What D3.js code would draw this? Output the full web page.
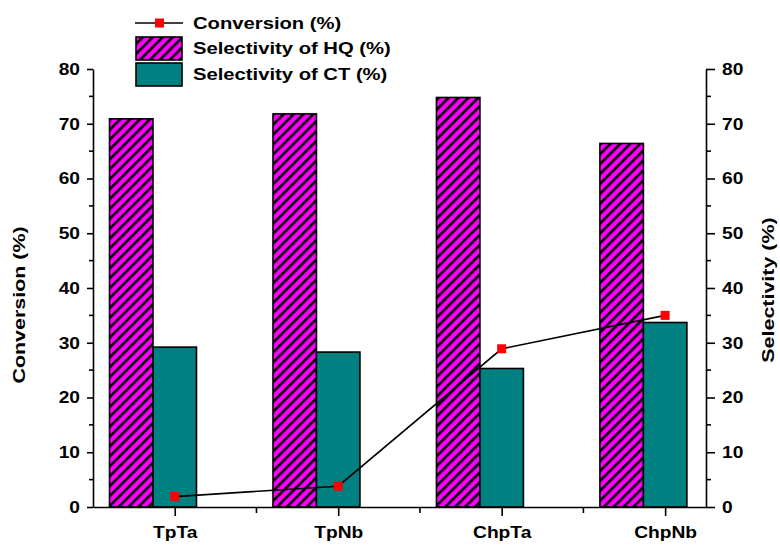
<!DOCTYPE html>
<html>
<head>
<meta charset="utf-8">
<script src="https://cdn.jsdelivr.net/npm/d3@7"></script>
<style>
  html, body { margin: 0; padding: 0; background: #fff; }
  svg text { font-family: Arial, "Liberation Sans", sans-serif; font-weight: bold; fill: #000; }
</style>
</head>
<body>
<svg id="chart" width="780" height="548"></svg>
<script>
// Catalyst samples
const categories = ["TpTa", "TpNb", "ChpTa", "ChpNb"];
// Conversion (%), left axis
const conversion = [1.9, 3.8, 28.9, 35.0];
// Selectivity (%), right axis
const selectivityHQ = [70.9, 71.8, 74.8, 66.4];
const selectivityCT = [29.2, 28.3, 25.3, 33.7];
const yTicks = [0, 10, 20, 30, 40, 50, 60, 70, 80];

const svg = d3.select("#chart");
const margin = { left: 93, right: 706, top: 69, bottom: 507 };

// categories sit at 1..4 on a linear x scale
const x = d3.scaleLinear().domain([0.5, 4.25]).range([margin.left, margin.right]);
const yL = d3.scaleLinear().domain([0, 80]).range([margin.bottom, margin.top]);
const yR = d3.scaleLinear().domain([0, 80]).range([margin.bottom, margin.top]);
const barW = 0.266;

// widen glyphs horizontally around each text's anchor point
function stretch(sel, k) {
  sel.each(function () {
    const t = d3.select(this);
    const tx = +t.attr("x") || 0, ty = +t.attr("y") || 0;
    const prev = t.attr("transform") || "";
    t.attr("transform", `${prev} translate(${tx},${ty}) scale(${k},1) translate(${-tx},${-ty})`);
  });
}

// hatch pattern for HQ bars
const defs = svg.append("defs");
const pat = defs.append("pattern")
  .attr("id", "hatch").attr("patternUnits", "userSpaceOnUse")
  .attr("width", 7).attr("height", 7)
  .attr("patternTransform", "rotate(45)");
pat.append("rect").attr("width", 7).attr("height", 7).attr("fill", "#ff00ff");
pat.append("rect").attr("x", 0).attr("width", 2.6).attr("height", 7).attr("fill", "#000");

// bars
const g = svg.append("g");
g.selectAll(".hq").data(selectivityHQ).join("rect")
  .attr("class", "hq")
  .attr("x", (d, i) => x(i + 1 - 1.5 * barW))
  .attr("width", x(barW) - x(0))
  .attr("y", d => yR(d))
  .attr("height", d => yR(0) - yR(d))
  .attr("fill", "url(#hatch)")
  .attr("stroke", "#000").attr("stroke-width", 1.6);

g.selectAll(".ct").data(selectivityCT).join("rect")
  .attr("class", "ct")
  .attr("x", (d, i) => x(i + 1 - 0.5 * barW))
  .attr("width", x(barW) - x(0))
  .attr("y", d => yR(d))
  .attr("height", d => yR(0) - yR(d))
  .attr("fill", "#008080")
  .attr("stroke", "#000").attr("stroke-width", 1.6);

// conversion line + markers
const line = d3.line().x((d, i) => x(i + 1)).y(d => yL(d));
g.append("path").datum(conversion)
  .attr("d", line).attr("fill", "none")
  .attr("stroke", "#000").attr("stroke-width", 1.6);
g.selectAll(".mk").data(conversion).join("rect")
  .attr("class", "mk")
  .attr("x", (d, i) => x(i + 1) - 4.5)
  .attr("y", d => yL(d) - 4.5)
  .attr("width", 9).attr("height", 9)
  .attr("fill", "#ff0000");

// axes
function styleAxis(sel) {
  sel.selectAll("path, line").attr("stroke", "#000").attr("stroke-width", 1.6);
  sel.selectAll("text").style("font-size", "17px").style("font-weight", "bold");
  stretch(sel.selectAll(".tick text"), 1.13);
}

const minorY = d3.range(5, 80, 10);

const leftAxis = svg.append("g").attr("transform", `translate(${margin.left},0)`)
  .call(d3.axisLeft(yL).tickValues(yTicks).tickSize(6).tickSizeOuter(0).tickPadding(7));
leftAxis.selectAll(".minor").data(minorY).join("line")
  .attr("class", "minor").attr("x1", 0).attr("x2", -4)
  .attr("y1", d => yL(d)).attr("y2", d => yL(d));
styleAxis(leftAxis);

const rightAxis = svg.append("g").attr("transform", `translate(${margin.right},0)`)
  .call(d3.axisRight(yR).tickValues(yTicks).tickSize(9).tickSizeOuter(0).tickPadding(7));
rightAxis.selectAll(".minor").data(minorY).join("line")
  .attr("class", "minor").attr("x1", 0).attr("x2", 5)
  .attr("y1", d => yR(d)).attr("y2", d => yR(d));
styleAxis(rightAxis);

const bottomAxis = svg.append("g").attr("transform", `translate(0,${margin.bottom})`)
  .call(d3.axisBottom(x).tickValues([1, 2, 3, 4]).tickFormat((d) => categories[d - 1])
    .tickSize(9).tickSizeOuter(0).tickPadding(10));
bottomAxis.selectAll(".minor").data([1.5, 2.5, 3.5]).join("line")
  .attr("class", "minor").attr("y1", 0).attr("y2", 6)
  .attr("x1", d => x(d)).attr("x2", d => x(d));
styleAxis(bottomAxis);

// axis titles
svg.append("text")
  .attr("transform", "translate(25,305) rotate(-90) scale(1.3,1)")
  .attr("text-anchor", "middle").style("font-size", "16.5px")
  .text("Conversion (%)");
svg.append("text")
  .attr("transform", "translate(774,290) rotate(-90) scale(1.3,1)")
  .attr("text-anchor", "middle").style("font-size", "16.5px")
  .text("Selectivity (%)");

// legend
const lg = svg.append("g");
lg.append("line").attr("x1", 135).attr("x2", 183).attr("y1", 23).attr("y2", 23)
  .attr("stroke", "#000").attr("stroke-width", 1.6);
lg.append("rect").attr("x", 155).attr("y", 18.5).attr("width", 9).attr("height", 9).attr("fill", "#ff0000");
lg.append("rect").attr("x", 136).attr("y", 37).attr("width", 46).attr("height", 23)
  .attr("fill", "url(#hatch)").attr("stroke", "#000").attr("stroke-width", 1.6);
lg.append("rect").attr("x", 136).attr("y", 63).attr("width", 46).attr("height", 23)
  .attr("fill", "#008080").attr("stroke", "#000").attr("stroke-width", 1.6);
const legendText = ["Conversion (%)", "Selectivity of HQ (%)", "Selectivity of CT (%)"];
lg.selectAll(".lt").data(legendText).join("text")
  .attr("class", "lt")
  .attr("x", 193).attr("y", (d, i) => [29.5, 54.5, 80][i])
  .style("font-size", "17px")
  .text(d => d)
  .call(stretch, 1.19);
</script>
</body>
</html>
